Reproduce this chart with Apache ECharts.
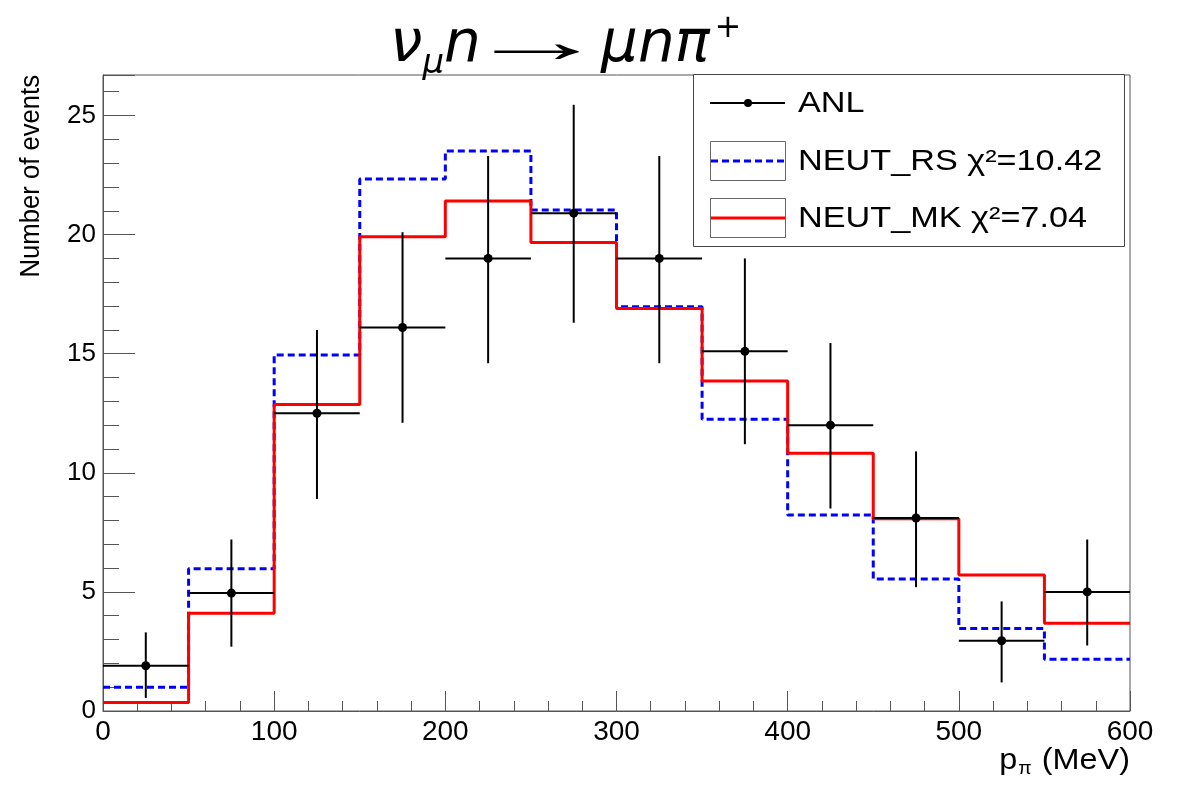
<!DOCTYPE html>
<html>
<head>
<meta charset="utf-8">
<script src="https://cdn.jsdelivr.net/npm/echarts@6/dist/echarts.min.js"></script>
<style>
	html, body { margin: 0; padding: 0; background: #fff; }
	#chart { width: 1180px; height: 787px; }
</style>
</head>
<body>
<div id="chart"></div>
<script>
// bin edges in MeV (12 bins of 50 MeV)
var binEdges = [0, 50, 100, 150, 200, 250, 300, 350, 400, 450, 500, 550, 600];
// ANL data: central value, lower and upper end of the error bar
var anlValues = [1.9, 4.95, 12.5, 16.1, 19.0, 20.9, 19.0, 15.1, 12.0, 8.1, 2.95, 5.0];
var anlLow = [0.55, 2.7, 8.9, 12.1, 14.6, 16.3, 14.6, 11.2, 8.5, 5.2, 1.2, 2.75];
var anlHigh = [3.3, 7.2, 16.0, 20.1, 23.3, 25.45, 23.3, 19.0, 15.45, 10.9, 4.6, 7.2];
// model predictions
var rsValues = [1.0, 5.97, 14.95, 22.33, 23.51, 21.03, 16.97, 12.25, 8.23, 5.54, 3.46, 2.17];
var mkValues = [0.36, 4.10, 12.87, 19.91, 21.41, 19.67, 16.9, 13.85, 10.82, 8.07, 5.71, 3.68];
var rsLabel = "NEUT_RS \u03c7\u00b2=10.42";
var mkLabel = "NEUT_MK \u03c7\u00b2=7.04";

var font = "'Liberation Sans', Arial, Helvetica, sans-serif";
var titleFont = "'DejaVu Sans', Verdana, sans-serif";

// step histogram: left edge of each bin plus closing edge
var stepData = function(values) {
	var data = values.map(function(v, i) {
		return [binEdges[i], v];
	});
	data.push([binEdges[binEdges.length - 1], values[values.length - 1]]);
	return data;
};

var anlData = anlValues.map(function(v, i) {
	return [binEdges[i], binEdges[i + 1], v, anlLow[i], anlHigh[i]];
});

var legendText = function(text, y) {
	return {
		type: "text", x: 798, y: y, scaleX: 1.16,
		style: {text: text, font: "29.5px " + font, fill: "#000", verticalAlign: "middle"}
	};
};

var chart = echarts.init(document.getElementById("chart"), null, {renderer: "canvas"});
var option = {
	animation: false,
	backgroundColor: "#fff",
	grid: {
		left: 103,
		right: 50,
		top: 75,
		bottom: 76,
		show: true,
		borderColor: "#555",
		borderWidth: 1,
		containLabel: false
	},
	xAxis: {
		type: "value",
		min: 0,
		max: 600,
		interval: 100,
		axisLine: {show: true, lineStyle: {color: "#555", width: 1}},
		axisTick: {show: true, inside: true, length: 20, lineStyle: {color: "#555"}},
		minorTick: {show: true, splitNumber: 5, length: 10, lineStyle: {color: "#555"}},
		splitLine: {show: false},
		axisLabel: {color: "#000", fontSize: 28, fontFamily: font, margin: 7}
	},
	yAxis: {
		type: "value",
		min: 0,
		max: 26.7,
		interval: 5,
		axisLine: {show: true, lineStyle: {color: "#555", width: 1}},
		axisTick: {show: true, inside: true, length: 32, lineStyle: {color: "#555"}},
		minorTick: {show: true, splitNumber: 5, length: 16, lineStyle: {color: "#555"}},
		splitLine: {show: false},
		axisLabel: {color: "#000", fontSize: 26, fontFamily: font, margin: 7, showMaxLabel: false}
	},
	series: [
		{
			name: "NEUT_RS",
			type: "line",
			step: "end",
			data: stepData(rsValues),
			symbol: "none",
			lineStyle: {color: "#0000ff", width: 3, type: [7, 4]},
			z: 2
		},
		{
			name: "NEUT_MK",
			type: "line",
			step: "end",
			data: stepData(mkValues),
			symbol: "none",
			lineStyle: {color: "#ff0000", width: 3},
			z: 3
		},
		{
			name: "ANL",
			type: "custom",
			data: anlData,
			z: 4,
			renderItem: function(params, api) {
				var left = api.coord([api.value(0), api.value(2)]);
				var right = api.coord([api.value(1), api.value(2)]);
				var mid = (api.value(0) + api.value(1)) / 2;
				var center = api.coord([mid, api.value(2)]);
				var low = api.coord([mid, api.value(3)]);
				var high = api.coord([mid, api.value(4)]);
				var style = {stroke: "#000", lineWidth: 2};
				return {
					type: "group",
					children: [
						{type: "line", shape: {x1: left[0], y1: left[1], x2: right[0], y2: right[1]}, style: style},
						{type: "line", shape: {x1: low[0], y1: low[1], x2: high[0], y2: high[1]}, style: style},
						{type: "circle", shape: {cx: center[0], cy: center[1], r: 4.5}, style: {fill: "#000"}}
					]
				};
			}
		}
	],
	graphic: [
		// title, in three pieces: "nu_mu n", arrow, "mu n pi+"
		{
			type: "text",
			x: 390,
			y: 46,
			style: {
				text: "{i|\u03bd}{s|\u03bc}{i|n}",
				align: "left",
				verticalAlign: "middle",
				rich: {
					i: {fontSize: 58, fontStyle: "italic", fontFamily: titleFont, fill: "#000", lineHeight: 70},
					s: {fontSize: 34, fontStyle: "italic", fontFamily: titleFont, fill: "#000", lineHeight: 70, verticalAlign: "bottom", padding: [18, 0, 0, 0]}
				}
			}
		},
		{
			type: "text",
			x: 536,
			y: 45,
			scaleX: 2.3,
			style: {
				text: "\u2192",
				font: "62px " + font,
				fill: "#000",
				align: "center",
				verticalAlign: "middle"
			}
		},
		{
			type: "text",
			x: 601,
			y: 46,
			style: {
				text: "{i|\u03bcn\u03c0}{p|+}",
				align: "left",
				verticalAlign: "middle",
				rich: {
					i: {fontSize: 58, fontStyle: "italic", fontFamily: titleFont, fill: "#000", lineHeight: 70},
					p: {fontSize: 32, fontFamily: titleFont, fill: "#000", lineHeight: 70, verticalAlign: "top", padding: [2, 0, 0, 5]}
				}
			}
		},
		// y axis title
		{
			type: "text",
			x: 32,
			y: 75,
			rotation: Math.PI / 2,
			scaleX: 0.95,
			style: {
				text: "Number of events",
				font: "27px " + font,
				fill: "#000",
				align: "right",
				verticalAlign: "middle"
			}
		},
		// x axis title
		{
			type: "text",
			x: 1130,
			y: 761,
			scaleX: 1.08,
			style: {
				text: "{t|p}{s|\u03c0}{t| (MeV)}",
				align: "right",
				verticalAlign: "middle",
				rich: {
					t: {fontSize: 30, fontFamily: font, fill: "#000", lineHeight: 34},
					s: {fontSize: 18, fontFamily: font, fill: "#000", lineHeight: 34, verticalAlign: "bottom", padding: [0, 1, 0, 1]}
				}
			}
		},
		// legend
		{
			type: "group",
			z: 10,
			children: [
				{type: "rect", shape: {x: 693.5, y: 74.5, width: 431, height: 172}, style: {fill: "#fff", stroke: "#444", lineWidth: 1}},
				{type: "line", shape: {x1: 710, y1: 103, x2: 785, y2: 103}, style: {stroke: "#000", lineWidth: 2}},
				{type: "circle", shape: {cx: 748, cy: 103, r: 4}, style: {fill: "#000"}},
				legendText("ANL", 104),
				{type: "rect", shape: {x: 710.5, y: 141.5, width: 75, height: 39}, style: {fill: "#fff", stroke: "#666", lineWidth: 1}},
				{type: "line", shape: {x1: 711, y1: 161, x2: 785, y2: 161}, style: {stroke: "#0000ff", lineWidth: 3, lineDash: [7, 4]}},
				legendText(rsLabel, 162),
				{type: "rect", shape: {x: 710.5, y: 198.5, width: 75, height: 39}, style: {fill: "#fff", stroke: "#666", lineWidth: 1}},
				{type: "line", shape: {x1: 711, y1: 218, x2: 785, y2: 218}, style: {stroke: "#ff0000", lineWidth: 3}},
				legendText(mkLabel, 219)
			]
		}
	]
};
chart.setOption(option);
</script>
</body>
</html>
